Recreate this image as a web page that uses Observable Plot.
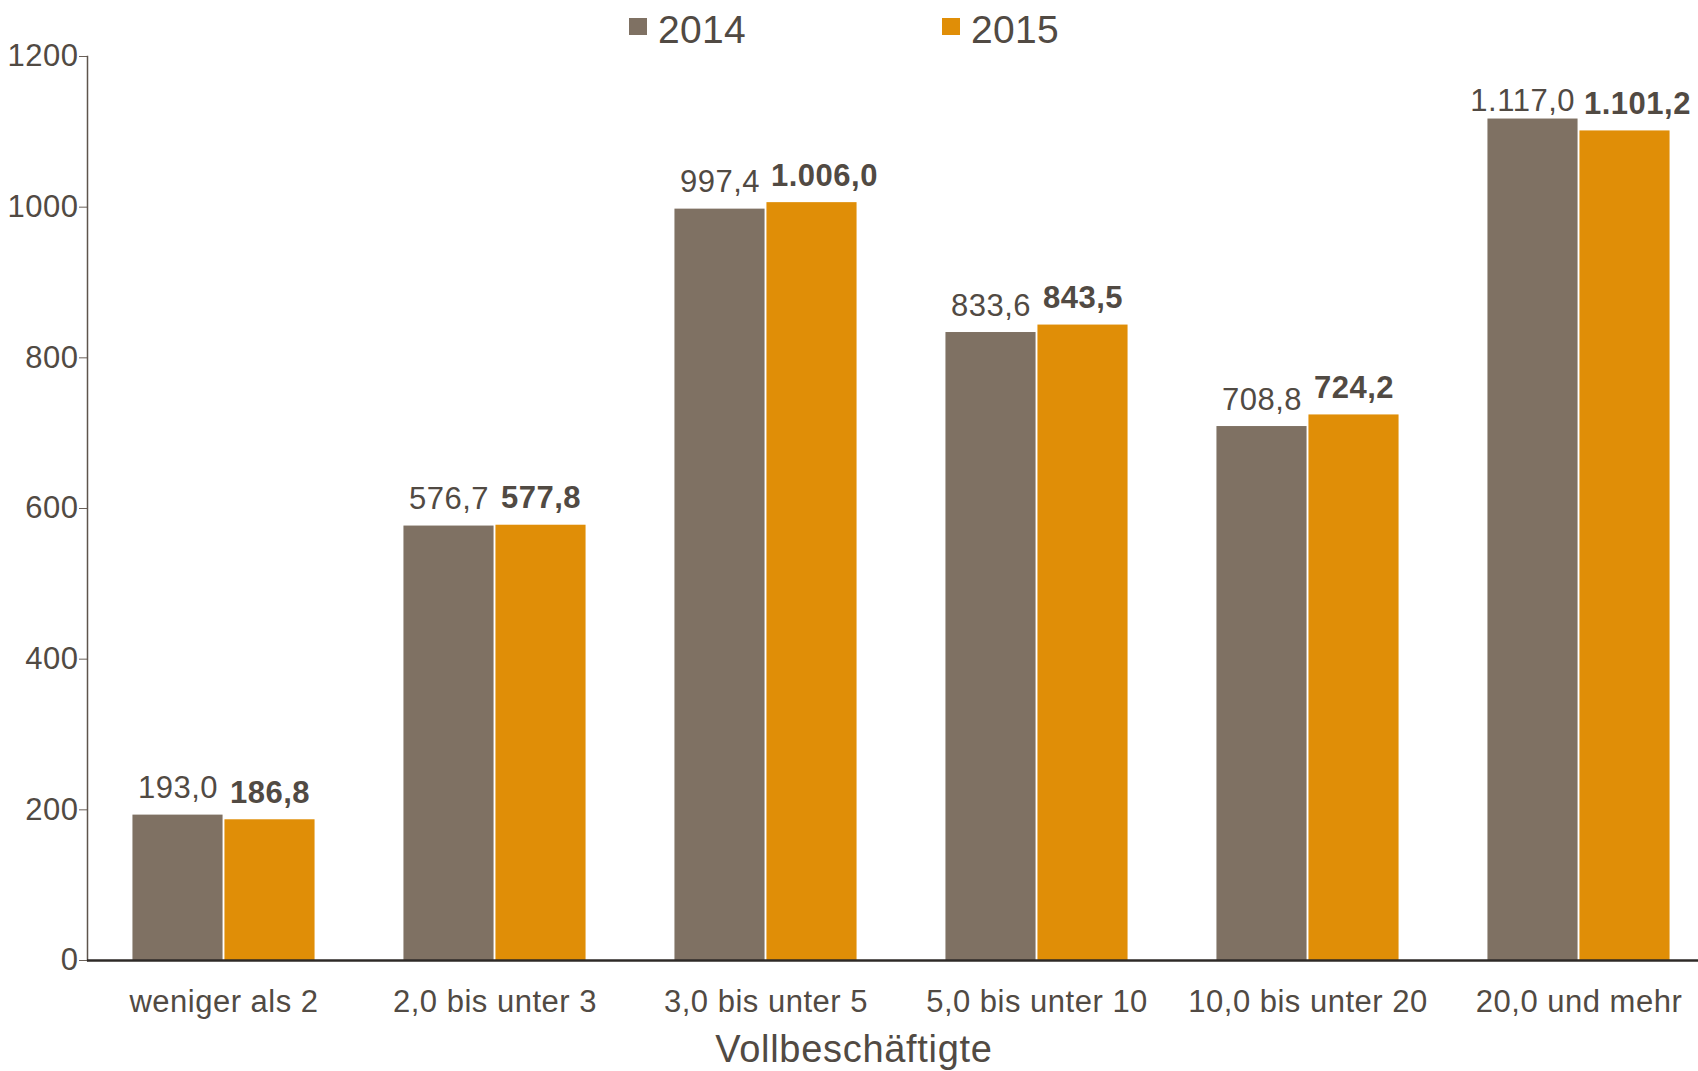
<!DOCTYPE html>
<html>
<head>
<meta charset="utf-8">
<script src="https://cdn.jsdelivr.net/npm/d3@7"></script>
<script src="https://cdn.jsdelivr.net/npm/@observablehq/plot@0.6"></script>
<style>
  html, body { margin: 0; padding: 0; background: #fff; overflow: hidden; }
  body { width: 1698px; height: 1071px; font-family: "Liberation Sans", Arial, Helvetica, sans-serif; color: #514a43; }
  #legend { position: relative; height: 44px; }
  #legend .sw { position: absolute; top: 18px; width: 18px; height: 17px; }
  #legend .lb { position: absolute; top: 10px; font-size: 39px; line-height: 39px; letter-spacing: 0.3px; }
  #title { height: 51px; text-align: center; font-size: 38px; line-height: 38px; letter-spacing: 0.7px; padding-top: 10px; padding-left: 10px; box-sizing: border-box; }
  svg { display: block; }
</style>
</head>
<body>
<div id="legend"></div>
<div id="chart"></div>
<div id="title"></div>
<script>
const categories = ["weniger als 2", "2,0 bis unter 3", "3,0 bis unter 5", "5,0 bis unter 10", "10,0 bis unter 20", "20,0 und mehr"];
const years = ["2014", "2015"];
const values2014 = [193.0, 576.7, 997.4, 833.6, 708.8, 1117.0];
const values2015 = [186.8, 577.8, 1006.0, 843.5, 724.2, 1101.2];
const yTicks = [0, 200, 400, 600, 800, 1000, 1200];
const colors = ["#7f7163", "#e08e07"];
const xTitle = "Vollbeschäftigte";

const textColor = "#514a43";
const fontFamily = '"Liberation Sans", Arial, Helvetica, sans-serif';
const de = d3.formatLocale({decimal: ",", thousands: ".", grouping: [3], currency: ["", " €"]});
const fmt = de.format(",.1f");

const rows2014 = categories.map((c, i) => ({category: c, value: values2014[i], label: fmt(values2014[i])}));
const rows2015 = categories.map((c, i) => ({category: c, value: values2015[i], label: fmt(values2015[i])}));

// Legend (HTML, above the SVG)
const legend = document.getElementById("legend");
const legendSwatchX = [629, 942];
years.forEach((y, i) => {
  const sw = document.createElement("div");
  sw.className = "sw";
  sw.style.left = legendSwatchX[i] + "px";
  sw.style.background = colors[i];
  legend.appendChild(sw);
  const lb = document.createElement("div");
  lb.className = "lb";
  lb.style.left = (legendSwatchX[i] + 29) + "px";
  lb.textContent = y;
  legend.appendChild(lb);
});

const W = 1698;
const marginLeft = 87;
const half = 92; // inset so each bar takes ~half of the group band
const isLong = d => d.label.length > 5;
const fs = 31;

const chart = Plot.plot({
  width: W,
  height: 976,
  marginTop: 12,
  marginBottom: 60,
  marginLeft: marginLeft,
  marginRight: 0,
  style: {fontFamily, color: textColor, background: "#fff", overflow: "visible", letterSpacing: "0.5px"},
  x: {domain: categories, range: [marginLeft + 1, 1714], paddingInner: 0.328, paddingOuter: 0.164, align: 0.5, round: false, label: null},
  y: {domain: [0, 1200], label: null},
  marks: [
    Plot.barY(rows2014, {x: "category", y: "value", fill: colors[0], insetRight: half, insetLeft: 0}),
    Plot.barY(rows2015, {x: "category", y: "value", fill: colors[1], insetLeft: half, insetRight: 0}),
    // value labels 2014
    Plot.text(rows2014, {filter: d => !isLong(d), x: "category", y: "value", text: "label", dx: -46, dy: -17, lineAnchor: "bottom", textAnchor: "middle", fontSize: fs, fill: textColor}),
    Plot.text(rows2014, {filter: isLong, x: "category", y: "value", text: "label", dx: -4, dy: -8, lineAnchor: "bottom", textAnchor: "end", fontSize: fs, fill: textColor}),
    // value labels 2015 (bold)
    Plot.text(rows2015, {filter: d => !isLong(d), x: "category", y: "value", text: "label", dx: 46, dy: -17, lineAnchor: "bottom", textAnchor: "middle", fontSize: fs, fontWeight: "bold", fill: textColor}),
    Plot.text(rows2015, {filter: isLong, x: "category", y: "value", text: "label", dx: 5, dy: -17, lineAnchor: "bottom", textAnchor: "start", fontSize: fs, fontWeight: "bold", fill: textColor}),
    Plot.axisY({ticks: yTicks, tickFormat: d => String(d), tickSize: 8, tickPadding: 1, fontSize: fs, color: textColor, stroke: "#6a6058", label: null}),
    Plot.axisX({tickSize: 0, tickPadding: 29, fontSize: fs, color: textColor, label: null}),
    Plot.frame({anchor: "left", stroke: "#5e554d", strokeWidth: 1.5}),
    Plot.ruleY([0], {stroke: "#2e2a27", strokeWidth: 2.5})
  ]
});
document.getElementById("chart").appendChild(chart);
document.getElementById("title").textContent = xTitle;
</script>
</body>
</html>
